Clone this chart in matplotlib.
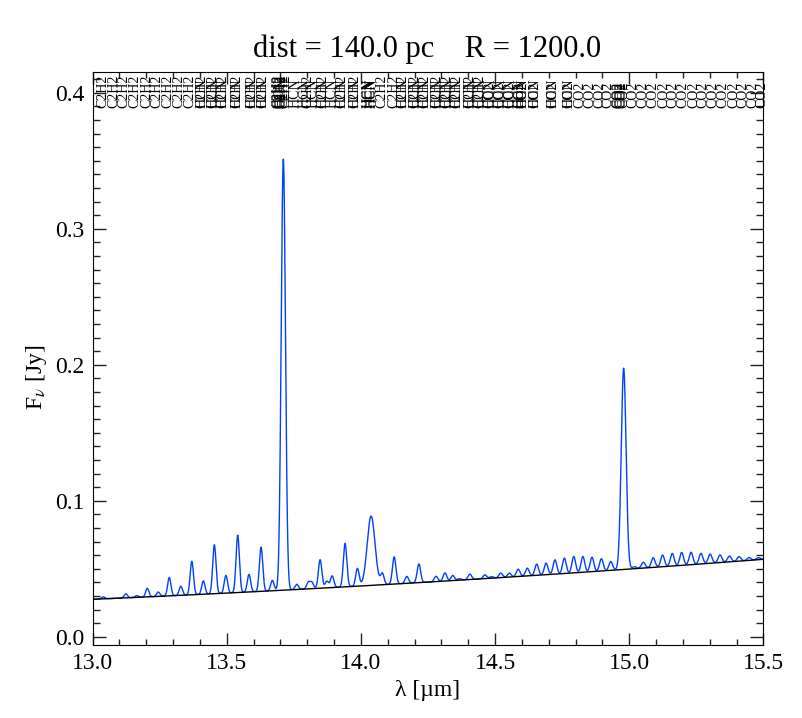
import numpy as np
import matplotlib
matplotlib.use("Agg")
import matplotlib.pyplot as plt
from matplotlib.ticker import MultipleLocator, FormatStrFormatter
from matplotlib.transforms import blended_transform_factory

plt.rcParams["font.family"] = ["Liberation Serif", "DejaVu Serif"]
plt.rcParams["mathtext.fontset"] = "stix"

dist_pc = 140.0
resolving_power = 1200.0

# continuum
cont_wl = [13.0, 13.624, 14.220, 14.816, 15.5]
cont_flux = [0.0274, 0.0338, 0.0397, 0.0472, 0.0571]

# single lines: centre (micron) and peak height above continuum (Jy)
line_wl = [13.040, 13.124, 13.165, 13.204, 13.245, 13.286, 13.329, 13.370,
           13.413, 13.454, 13.497, 13.541, 13.583, 13.628, 13.670, 13.761,
           13.804, 13.817, 13.848, 13.873, 13.893, 13.941, 13.987, 14.080,
           14.124, 14.171, 14.216, 14.280, 14.313, 14.342, 14.367, 14.406,
           14.462, 14.487, 14.521, 14.553, 14.586, 14.620, 14.655, 14.690,
           14.723, 14.758, 14.793, 14.827, 14.861, 14.896, 14.931, 15.019,
           15.052, 15.089, 15.124, 15.160, 15.195, 15.230, 15.267, 15.301,
           15.338, 15.373, 15.409, 15.446, 15.481]
line_amp = [0.0015, 0.0030, 0.0013, 0.0063, 0.0032, 0.0135, 0.0067, 0.0246,
            0.0098, 0.0360, 0.0130, 0.0422, 0.0129, 0.0325, 0.0076, 0.0038,
            0.0046, 0.0046, 0.0210, 0.0049, 0.0086, 0.0320, 0.0130, 0.0080,
            0.0200, 0.0051, 0.0137, 0.0039, 0.0060, 0.0038, 0.0011, 0.0040,
            0.0028, 0.0012, 0.0033, 0.0029, 0.0054, 0.0057, 0.0082, 0.0085,
            0.0105, 0.0113, 0.0120, 0.0116, 0.0106, 0.0090, 0.0065, 0.0015,
            0.0043, 0.0071, 0.0086, 0.0093, 0.0095, 0.0091, 0.0078, 0.0068,
            0.0056, 0.0043, 0.0033, 0.0021, 0.0015]

# Q-branch blends (C2H2, HCN, CO2)
q_wl = [13.711, 14.038, 14.979]
q_amp = [0.317, 0.051, 0.148]
q_fwhm = [0.0186, 0.034, 0.021]

# line identifications along the top
c2h2_wl = [13.040, 13.080, 13.118, 13.158, 13.202, 13.239, 13.279, 13.320,
           13.361, 13.407, 13.450, 13.487, 13.537, 13.593, 13.636,
           13.689, 13.695, 13.701, 13.707, 13.713, 13.719,
           13.804, 13.860, 13.928, 13.978, 14.078, 14.121, 14.158, 14.202,
           14.239, 14.282, 14.320, 14.357, 14.406, 14.444]
hcn_wl = [13.407, 13.450, 13.487, 13.537, 13.593, 13.636, 13.700, 13.754,
          13.792, 13.823, 13.860, 13.891, 13.928, 13.978,
          14.025, 14.031, 14.037, 14.043,
          14.158, 14.202, 14.239, 14.282, 14.320, 14.357, 14.406, 14.444,
          14.481, 14.518, 14.556, 14.593, 14.605, 14.649, 14.717, 14.776]
co2_wl = [14.481, 14.518, 14.556, 14.593, 14.605, 14.649, 14.717, 14.776,
          14.816, 14.854, 14.891, 14.922,
          14.956, 14.961, 14.967, 14.972, 14.978,
          15.015, 15.052, 15.089, 15.127, 15.164, 15.201, 15.239, 15.276,
          15.313, 15.350, 15.388, 15.425, 15.462, 15.493]

# build the model spectrum
wl = np.linspace(13.0, 15.5, 6000)
cont = np.polyval(np.polyfit(cont_wl, cont_flux, 2), wl)
flux = cont.copy()
for c, a in zip(line_wl, line_amp):
    fwhm = 1.3 * c / resolving_power
    flux += a * np.exp(-4 * np.log(2) * (wl - c) ** 2 / fwhm ** 2)
for c, a, w in zip(q_wl, q_amp, q_fwhm):
    flux += a * np.exp(-4 * np.log(2) * (wl - c) ** 2 / w ** 2)

fig = plt.figure(figsize=(8.03, 7.18), dpi=100)
ax = fig.add_axes([0.1152, 0.1017, 0.8356, 0.7980])

ax.plot(wl, flux, color="#0040ff", lw=1.0)
ax.plot(wl, cont, color="black", lw=1.0)

ax.set_xlim(13.0, 15.5)
ax.set_ylim(-0.006, 0.4153)
ax.xaxis.set_major_locator(MultipleLocator(0.5))
ax.xaxis.set_minor_locator(MultipleLocator(0.1))
ax.yaxis.set_major_locator(MultipleLocator(0.1))
ax.yaxis.set_minor_locator(MultipleLocator(0.01))
ax.xaxis.set_major_formatter(FormatStrFormatter("%.1f"))
ax.yaxis.set_major_formatter(FormatStrFormatter("%.1f"))
ax.tick_params(which="both", direction="in", top=True, right=True,
               labelsize=17, color="#222222", width=1)
ax.tick_params(axis="x", which="major", length=8.3, pad=6)
ax.tick_params(axis="x", which="minor", length=4.2)
ax.tick_params(axis="y", which="major", length=9.6, pad=6)
ax.tick_params(axis="y", which="minor", length=4.8)

trans = blended_transform_factory(ax.transData, ax.transAxes)
for names, txt in [(c2h2_wl, "C2H2"), (hcn_wl, "HCN"), (co2_wl, "CO2")]:
    for w in names:
        ax.text(w, 0.937, txt, transform=trans, rotation=90, fontsize=10,
                ha="center", va="bottom", clip_on=False)

fig.text(0.532, 0.9206, "dist = %.1f pc    R = %.1f" % (dist_pc, resolving_power),
         fontsize=22, ha="center", va="baseline")
ax.set_xlabel("λ [µm]", fontsize=17, labelpad=4)
fig.text(0.046, 0.475, r"F$_\nu$ [Jy]", fontsize=17, rotation=90,
         ha="center", va="center")

fig.savefig("out.png", dpi=100)
